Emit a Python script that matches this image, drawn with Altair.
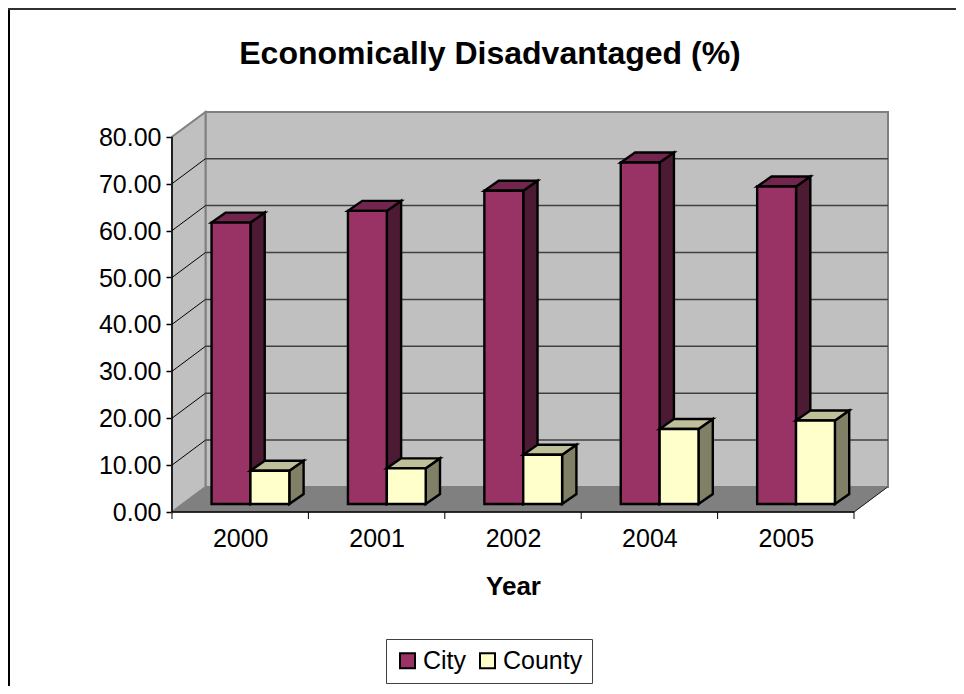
import altair as alt
import pandas as pd

years = ["2000", "2001", "2002", "2004", "2005"]
city = [60.0, 62.5, 66.8, 72.8, 67.7]
county = [7.1, 7.6, 10.5, 16.0, 17.8]
y_ticks = [0, 10, 20, 30, 40, 50, 60, 70, 80]

FONT = "Liberation Sans"
CAT_PX = 136.4
W, H = 716, 400
VAL_PX = 4.69
XMAX = W / CAT_PX
YMAX = H / VAL_PX
WALL_DX, WALL_DY = 33.5 / CAT_PX, 25 / VAL_PX
BAR_DX, BAR_DY = 14.3 / CAT_PX, 10 / VAL_PX
BAR_BASE = 8 / VAL_PX
BAR_OFF, BAR_W = 0.29, 0.285
BAR_STROKE = 2.4
N = len(years)
PAD_L, PAD_T = 164, 104
SVG_W, SVG_H = 948, 678

xs = alt.Scale(domain=[0, XMAX], nice=False, zero=False)
ys = alt.Scale(domain=[0, YMAX], nice=False, zero=False)
x_axis = alt.Axis(
    values=[i + 0.5 for i in range(N)],
    labelExpr="['2000','2001','2002','2004','2005'][floor(datum.value)]",
    ticks=False, domain=False, grid=False, labelFont=FONT, labelFontSize=25, labelColor="black",
    labelPadding=14, titleFont=FONT, titleFontSize=26, titleFontWeight="bold", titleColor="black",
    titleX=341, titleY=61, labelFlush=False, labelOverlap=False)
y_axis = alt.Axis(
    values=y_ticks, format=".2f", domain=False, grid=False, tickColor="black", tickSize=6, tickWidth=1.5,
    labelFont=FONT, labelFontSize=25, labelColor="black", labelPadding=5, labelOffset=0.5)
X = lambda f="x": alt.X(f"{f}:Q", scale=xs, axis=x_axis, title="Year")
Y = lambda f="y": alt.Y(f"{f}:Q", scale=ys, axis=y_axis, title=None)

back = alt.Chart(pd.DataFrame({"x": [WALL_DX], "x2": [XMAX], "y": [WALL_DY], "y2": [YMAX]})).mark_rect(
    fill="#C0C0C0", stroke="#808080", strokeWidth=2).encode(x=X(), x2="x2:Q", y=Y(), y2="y2:Q")
side = alt.Chart(pd.DataFrame({"x": [0, WALL_DX], "y": [0, WALL_DY], "y2": [80, YMAX]})).mark_area(
    fill="#C0C0C0", stroke="#808080", strokeWidth=2).encode(x=X(), y=Y(), y2="y2:Q")
floor = alt.Chart(pd.DataFrame({"y": [0, WALL_DY], "x": [0, WALL_DX], "x2": [N, N + WALL_DX]})).mark_area(
    orient="horizontal", fill="#808080", stroke="#808080", strokeWidth=1).encode(y=Y(), x=X(), x2="x2:Q")

back_grid = alt.Chart(pd.DataFrame({"y": [v + WALL_DY for v in y_ticks[1:-1]], "x": WALL_DX, "x2": XMAX})).mark_rule(
    color="#404040", strokeWidth=1.5).encode(y=Y(), x=X(), x2="x2:Q")
side_rows = []
for v in y_ticks[1:-1]:
    side_rows += [{"x": 0, "y": v, "g": v}, {"x": WALL_DX, "y": v + WALL_DY, "g": v}]
side_grid = alt.Chart(pd.DataFrame(side_rows)).mark_line(color="black", strokeWidth=1).encode(x=X(), y=Y(), detail="g:N")
floor_edge = alt.Chart(pd.DataFrame({"x": [N, N + WALL_DX], "y": [0, WALL_DY]})).mark_line(color="#202020", strokeWidth=1).encode(x=X(), y=Y())

y_line = alt.Chart(pd.DataFrame({"x": [0], "y": [0], "y2": [80]})).mark_rule(color="black", strokeWidth=1.5).encode(x=X(), y=Y(), y2="y2:Q")
x_line = alt.Chart(pd.DataFrame({"x": [0], "x2": [N], "y": [0]})).mark_rule(color="black", strokeWidth=1.5).encode(x=X(), x2="x2:Q", y=Y())
x_ticks = alt.Chart(pd.DataFrame({"x": list(range(N + 1))})).mark_rule(color="black", strokeWidth=1).encode(
    x=X(), y=alt.value(H), y2=alt.value(H + 7))

border = alt.Chart(pd.DataFrame({"a": [0]})).mark_rule(color="black", strokeWidth=2).encode(
    x=alt.value(-PAD_L + 1), y=alt.value(-PAD_T), y2=alt.value(SVG_H - PAD_T))
border_top = alt.Chart(pd.DataFrame({"a": [0]})).mark_rule(color="#303030", strokeWidth=2).encode(
    x=alt.value(-PAD_L), x2=alt.value(SVG_W - PAD_L), y=alt.value(-PAD_T + 1))


def bar_layers(values, start, top, dark):
    tops, sides = [], []
    for i, v in enumerate(values):
        x0 = i + BAR_OFF + start * BAR_W
        x1 = x0 + BAR_W
        yv = BAR_BASE + v
        tops += [{"b": i, "y": yv, "x": x0, "x2": x1}, {"b": i, "y": yv + BAR_DY, "x": x0 + BAR_DX, "x2": x1 + BAR_DX}]
        sides += [{"b": i, "x": x1, "y": BAR_BASE, "y2": yv}, {"b": i, "x": x1 + BAR_DX, "y": BAR_BASE + BAR_DY, "y2": yv + BAR_DY}]
    s = alt.Chart(pd.DataFrame(sides)).mark_area(fill=dark, stroke="black", strokeWidth=BAR_STROKE).encode(x=X(), y=Y(), y2="y2:Q", detail="b:N")
    t = alt.Chart(pd.DataFrame(tops)).mark_area(orient="horizontal", fill=top, stroke="black", strokeWidth=BAR_STROKE).encode(y=Y(), x=X(), x2="x2:Q", detail="b:N")
    return [s, t]


front_rows = []
for i in range(N):
    x0 = i + BAR_OFF
    front_rows.append({"series": "City", "x": x0, "x2": x0 + BAR_W, "y": BAR_BASE, "y2": BAR_BASE + city[i]})
    front_rows.append({"series": "County", "x": x0 + BAR_W, "x2": x0 + 2 * BAR_W, "y": BAR_BASE, "y2": BAR_BASE + county[i]})
front_df = pd.DataFrame(front_rows)

color = alt.Color("series:N", scale=alt.Scale(domain=["City", "County"], range=["#993366", "#FFFFCC"]),
    legend=alt.Legend(title=None, orient="none", legendX=214, legendY=527, direction="horizontal", columns=2,
        symbolType="square", symbolSize=225, symbolStrokeColor="black", symbolStrokeWidth=2, symbolOpacity=1,
        labelFont=FONT, labelFontSize=25, labelColor="black", labelOffset=3, columnPadding=8,
        fillColor="white", strokeColor="#404040", padding=9))

city_front = alt.Chart(front_df[front_df.series == "City"]).mark_rect(stroke="black", strokeWidth=BAR_STROKE).encode(
    x=X(), x2="x2:Q", y=Y(), y2="y2:Q", color=color)
county_front = alt.Chart(front_df[front_df.series == "County"]).mark_rect(stroke="black", strokeWidth=BAR_STROKE).encode(
    x=X(), x2="x2:Q", y=Y(), y2="y2:Q", color=color)

layers = [border, border_top, back, side, floor, back_grid, side_grid, floor_edge, y_line, x_line, x_ticks]
layers += bar_layers(city, 0, "#73264D", "#4D1A33") + [city_front]
layers += bar_layers(county, 1, "#BFBF99", "#808066") + [county_front]

chart = alt.layer(*layers).properties(
    width=W, height=H,
    title=alt.TitleParams("Economically Disadvantaged (%)", font=FONT, fontSize=32, fontWeight="bold", color="black",
                          anchor="middle", frame="group", dx=-40, offset=-64),
    padding={"left": PAD_L, "top": PAD_T, "right": SVG_W - PAD_L - W, "bottom": SVG_H - PAD_T - H},
    autosize=alt.AutoSizeParams(type="none"),
).configure_view(stroke=None)

chart.save("out.html", embed_options={"renderer": "svg", "actions": False})
